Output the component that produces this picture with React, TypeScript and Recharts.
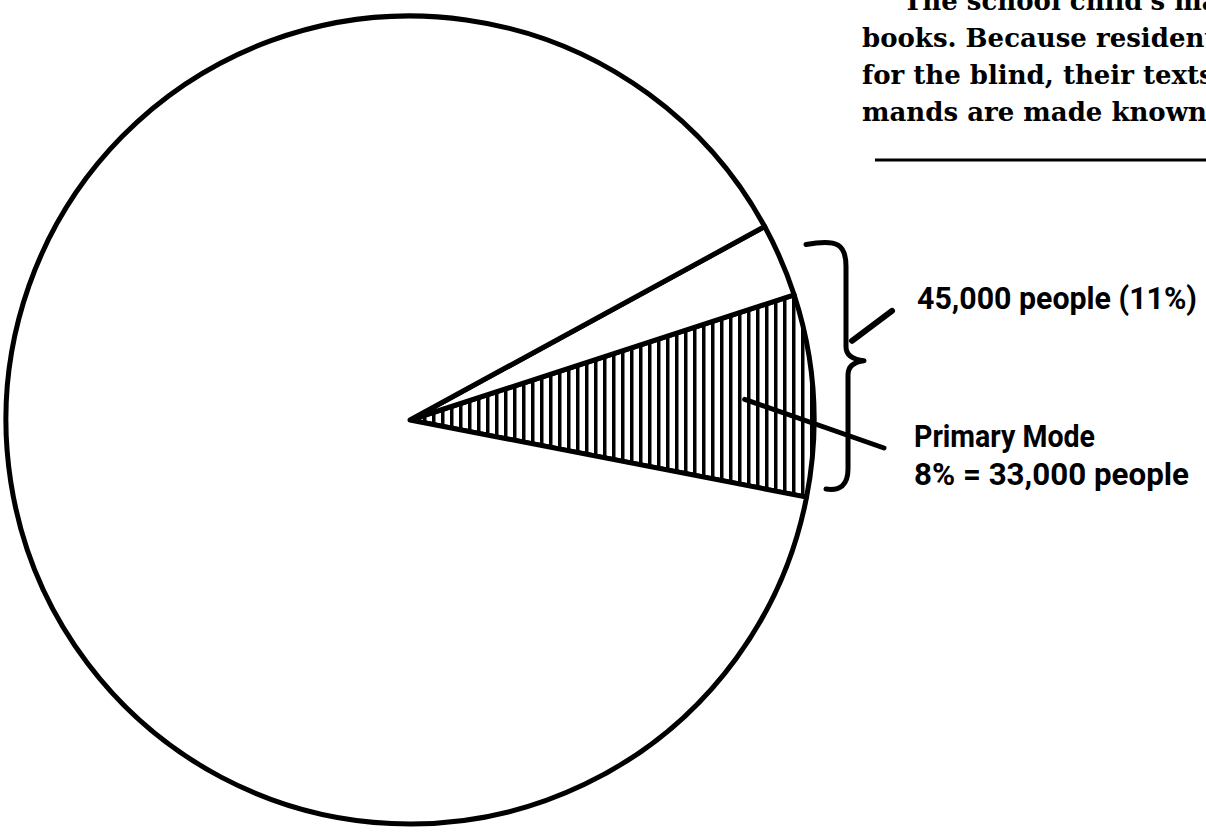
import { PieChart, Pie, Cell } from 'recharts'

const W = 1206
const H = 834
const CX = 410
const CY = 420
const R = 404
const START = -11

// reading modes, in people
const modeNames = ['Primary Mode', 'Secondary', 'Remainder']
const modePeople = [33000, 12000, 364000]

// the bracketed group (primary + secondary)
const groupNames = ['45,000 people (11%)', 'Remainder']
const groupPeople = [45000, 364000]

const primaryLines = ['Primary Mode', '8% = 33,000 people']
const primaryWidths = [181, 275]

// body text of the page, clipped at the edge
const paragraph = [
  "The school child's main",
  'books. Because residential',
  'for the blind, their texts',
  'mands are made known',
]

const modeData = modeNames.map((name, i) => ({ name, people: modePeople[i] }))
const groupData = groupNames.map((name, i) => ({ name, people: groupPeople[i] }))

const LABEL_FONT = "Roboto, 'DejaVu Sans Condensed', sans-serif"
const RAD = Math.PI / 180

function PrimaryLabel(p: any) {
  if (p.index !== 0) return null
  const ax = p.cx + p.outerRadius * 0.83 * Math.cos(-p.midAngle * RAD)
  const ay = p.cy + p.outerRadius * 0.83 * Math.sin(-p.midAngle * RAD)
  const ex = p.cx + p.outerRadius + 70
  const ey = p.cy + 28
  const tx = p.cx + p.outerRadius + 100
  return (
    <g>
      <line x1={ax} y1={ay} x2={ex} y2={ey} stroke="#000" strokeWidth={5} strokeLinecap="round" />
      {primaryLines.map((t, i) => (
        <text
          key={t}
          x={tx}
          y={p.cy + 27 + i * 38}
          fill="#000"
          fontFamily={LABEL_FONT}
          fontWeight="bold"
          fontSize={32}
          textLength={primaryWidths[i]}
          lengthAdjust="spacingAndGlyphs"
        >
          {t}
        </text>
      ))}
    </g>
  )
}

function BraceLabel(p: any) {
  if (p.index !== 0) return null
  const r = p.outerRadius
  const yTop = p.cy - r * Math.sin(p.endAngle * RAD) + 18
  const yBot = p.cy - r * Math.sin(p.startAngle * RAD) - 8
  const yMid = (yTop + yBot) / 2 - 6
  const xV = p.cx + r + 32
  const xMid = p.cx + r + 50
  const t1 = p.cx + r - 8
  const t2 = p.cx + r + 12
  const d = [
    `M ${t1} ${yTop}`,
    `C ${xV - 8} ${yTop - 6}, ${xV} ${yTop}, ${xV} ${yTop + 22}`,
    `L ${xV} ${yMid - 14}`,
    `Q ${xV} ${yMid - 2}, ${xMid} ${yMid}`,
    `Q ${xV + 2} ${yMid + 2}, ${xV + 2} ${yMid + 14}`,
    `L ${xV + 2} ${yBot - 20}`,
    `C ${xV + 2} ${yBot - 4}, ${xV - 6} ${yBot + 2}, ${t2} ${yBot}`,
  ].join(' ')
  return (
    <g>
      <path d={d} fill="none" stroke="#000" strokeWidth={5} strokeLinecap="round" strokeLinejoin="round" />
      <line x1={xMid - 12} y1={yMid - 20} x2={xMid + 28} y2={yMid - 50} stroke="#000" strokeWidth={6} strokeLinecap="round" />
      <text
        x={p.cx + r + 103}
        y={yMid - 52}
        fill="#000"
        fontFamily={LABEL_FONT}
        fontWeight="bold"
        fontSize={32}
        textLength={280}
        lengthAdjust="spacingAndGlyphs"
      >
        {p.name}
      </text>
    </g>
  )
}

export default function App() {
  return (
    <div style={{ position: 'absolute', left: 0, top: 0, width: W, height: H, overflow: 'hidden', background: '#fff' }}>
      <PieChart width={W} height={H} margin={{ top: 0, right: 0, bottom: 0, left: 0 }}>
        <defs>
          <pattern id="hatch" patternUnits="userSpaceOnUse" width={9} height={9}>
            <rect width={9} height={9} fill="#fff" />
            <rect x={0} width={3.5} height={9} fill="#000" />
          </pattern>
        </defs>
        <Pie
          data={groupData}
          dataKey="people"
          nameKey="name"
          cx={CX}
          cy={CY}
          outerRadius={R}
          startAngle={START}
          endAngle={START + 360}
          fill="none"
          stroke="none"
          label={BraceLabel}
          labelLine={false}
          isAnimationActive={false}
        />
        <Pie
          data={modeData}
          dataKey="people"
          nameKey="name"
          cx={CX}
          cy={CY}
          outerRadius={R}
          startAngle={START}
          endAngle={START + 360}
          stroke="#000"
          strokeWidth={5}
          strokeLinejoin="round"
          label={PrimaryLabel}
          labelLine={false}
          isAnimationActive={false}
        >
          {modeData.map((d, i) => (
            <Cell key={d.name} fill={i === 0 ? 'url(#hatch)' : '#fff'} />
          ))}
        </Pie>
      </PieChart>
      <svg width={W} height={H} style={{ position: 'absolute', left: 0, top: 0, pointerEvents: 'none' }}>
        {paragraph.map((t, i) => (
          <text
            key={t}
            x={i === 0 ? 903 : 862}
            y={10 + i * 37}
            fill="#000"
            fontFamily="'DejaVu Serif', 'Liberation Serif', serif"
            fontWeight="bold"
            fontSize={26}
          >
            {t}
          </text>
        ))}
        <line x1={875} y1={160} x2={W} y2={160} stroke="#000" strokeWidth={3} />
      </svg>
    </div>
  )
}
